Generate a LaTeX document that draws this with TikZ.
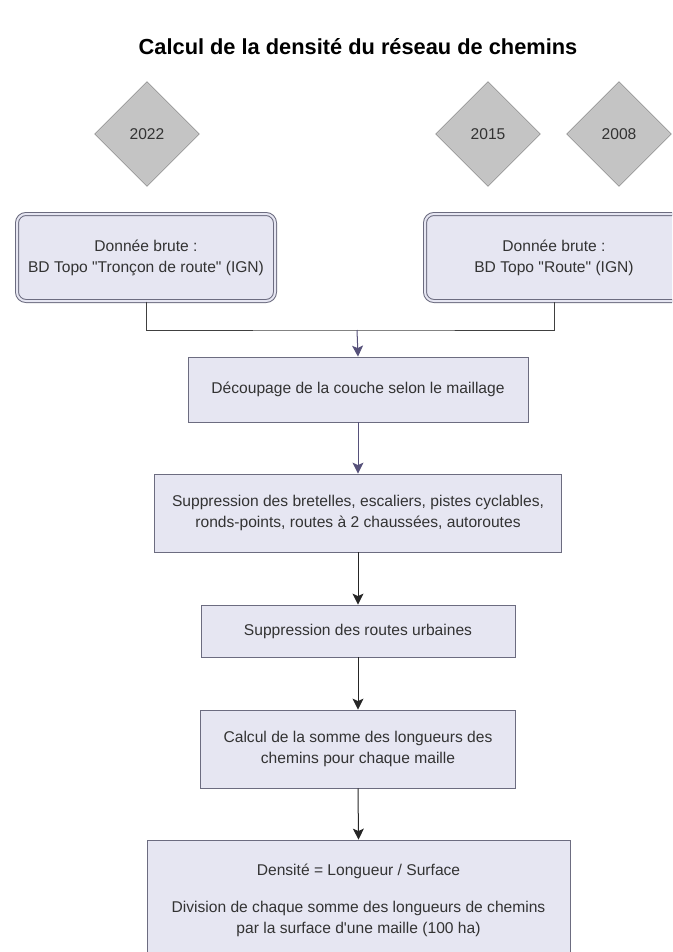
\documentclass[tikz,border=0pt]{standalone}
\usepackage{fontspec}
\setmainfont{Liberation Sans}[Ligatures=TeXOff]
\usetikzlibrary{shapes.geometric,arrows.meta}
\definecolor{lavande}{HTML}{E6E6F2}
\definecolor{bordbox}{HTML}{6C6C80}
\definecolor{gris}{HTML}{C4C4C4}
\definecolor{violet}{HTML}{56517A}
\begin{document}
\begin{tikzpicture}[x=1pt,y=-1pt,
  every node/.style={font=\fontsize{15.6}{21}\selectfont, text=black!80},
  annee/.style={diamond, draw=gray!90!black, fill=gris, minimum size=105pt, inner sep=0pt},
  source/.style={rectangle, rounded corners=9pt, draw=bordbox, line width=1pt, double=lavande, double distance=2pt, fill=lavande, align=center, minimum width=258pt, minimum height=87pt},
  etape/.style={rectangle, draw=bordbox, fill=lavande, align=center, line width=0.8pt},
  lien/.style={draw=black!75, line width=0.9pt},
  fleche/.style={-{Stealth[length=11pt,width=11pt,inset=2.5pt]}, line width=1pt}]
\useasboundingbox (0,0) rectangle (672,952);
\clip (0,0) rectangle (672,952);
\node[font=\fontsize{21.8}{24}\selectfont\bfseries, text=black] (titre) at (358,47) {Calcul de la densit\'e du r\'eseau de chemins};
\node[annee] (a2022) at (147,134) {2022};
\node[annee] (a2015) at (488,134) {2015};
\node[annee] (a2008) at (619,134) {2008};
\node[source] (ign1) at (146,257.5) {Donn\'ee brute :\\BD Topo "Tron\c{c}on de route" (IGN)};
\node[source] (ign2) at (554,257.5) {Donn\'ee brute :\\BD Topo "Route" (IGN)};
\node[etape, minimum width=340pt, minimum height=65pt] (decoup) at (358,389.5) {D\'ecoupage de la couche selon le maillage};
\node[etape, minimum width=407pt, minimum height=78pt] (suppr) at (358,513) {Suppression des bretelles, escaliers, pistes cyclables,\\ronds-points, routes \`a 2 chauss\'ees, autoroutes};
\node[etape, minimum width=314pt, minimum height=52pt] (urb) at (358,631) {Suppression des routes urbaines};
\node[etape, minimum width=315pt, minimum height=78pt] (somme) at (358,749) {Calcul de la somme des longueurs des\\chemins pour chaque maille};
\node[etape, minimum width=423pt, minimum height=120pt] (dens) at (358.5,900) {Densit\'e = Longueur / Surface\\[16pt]Division de chaque somme des longueurs de chemins\\par la surface d'une maille (100 ha)};
\coordinate (jonction) at (357,330);
\draw[lien] (ign1.south) |- (jonction) -| (ign2.south);
\draw[fleche, violet] (jonction) -- (decoup.north);
\draw[fleche, violet] (decoup.south) -- (suppr.north);
\draw[fleche, black!85] (suppr.south) -- (urb.north);
\draw[fleche, black!85] (urb.south) -- (somme.north);
\draw[fleche, black!85] (somme.south) -- (dens.north);
\end{tikzpicture}
\end{document}
